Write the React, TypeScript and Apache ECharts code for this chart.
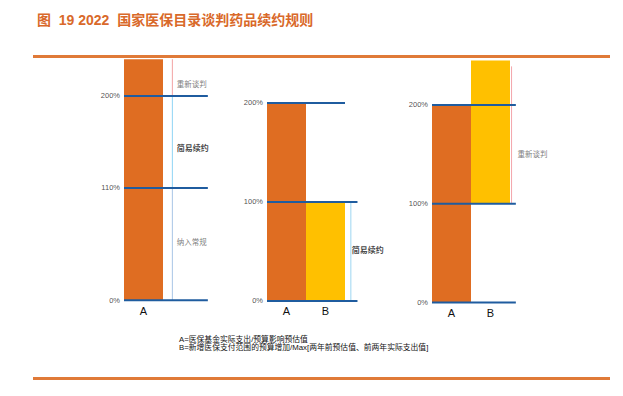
import React, { useEffect, useRef } from "react";
import * as echarts from "echarts";

// ---------- texts ----------
const TITLE = "图  19 2022  国家医保目录谈判药品续约规则";
const NOTE_LINES = [
  "A=医保基金实际支出/预算影响预估值",
  "B=新增医保支付范围的预算增加/Max[两年前预估值、前两年实际支出值]",
];

// ---------- panel 1 ----------
const p1Categories = ["A", "", ""];
const p1BarStart = [0];
const p1BarEnd = [236];
const p1Levels = [0, 110, 200];
const p1LevelEnds = [2.15, 2.15, 2.15];
const p1MarkerX = 1.24;
const p1MarkerSegments: number[][] = [[0, 110], [110, 200], [200, 236]];
const p1NoteTexts = ["纳入常规", "简易续约", "重新谈判"];
const p1NoteX = [1.35, 1.35, 1.35];
const p1NoteY = [57, 149, 211];

// ---------- panel 2 ----------
const p2Categories = ["A", "B", ""];
const p2BarStart = [0, 0];
const p2BarEnd = [200, 100];
const p2Levels = [0, 100, 200];
const p2LevelEnds = [2.32, 2.32, 2.0];
const p2MarkerX = 2.15;
const p2MarkerSegments: number[][] = [[0, 100]];
const p2NoteTexts = ["简易续约"];
const p2NoteX = [2.17];
const p2NoteY = [51];

// ---------- panel 3 ----------
const p3Categories = ["A", "B", ""];
const p3BarStart = [0, 100];
const p3BarEnd = [200, 245];
const p3Levels = [0, 100, 200];
const p3LevelEnds = [2.15, 2.15, 2.15];
const p3MarkerX = 2.04;
const p3MarkerSegments: number[][] = [[100, 239]];
const p3NoteTexts = ["重新谈判"];
const p3NoteX = [2.19];
const p3NoteY = [150];

// ---------- styles ----------
const BAR_COLORS = ["#DF6D22", "#FFC000"];
const LEVEL_COLOR = "#1F5C9F";
const ORANGE_RULE = "#E07A38";
const TITLE_COLOR = "#D9692A";
const p1SegColors = ["#A8C5E6", "#8FD5F5", "#F3A3A3"];
const p2SegColors = ["#9ED6F1"];
const p3SegColors = ["#F3A5AC"];
const p1NoteBold = [false, true, false];
const p2NoteBold = [true];
const p3NoteBold = [false];

const FONT = '"Liberation Sans", "Noto Sans CJK SC", sans-serif';
const UNIT = 39;

const LAYOUT = [
  { left: 124, zeroY: 300.3, scale: 1.0216, yMax: 240 },
  { left: 267, zeroY: 300.9, scale: 0.99, yMax: 210 },
  { left: 432, zeroY: 302.5, scale: 0.988, yMax: 250 },
];

const PANELS = [
  {
    categories: p1Categories, barStart: p1BarStart, barEnd: p1BarEnd,
    levels: p1Levels, levelEnds: p1LevelEnds, markerX: p1MarkerX,
    markerSegments: p1MarkerSegments, segColors: p1SegColors,
    noteTexts: p1NoteTexts, noteX: p1NoteX, noteY: p1NoteY, noteBold: p1NoteBold,
  },
  {
    categories: p2Categories, barStart: p2BarStart, barEnd: p2BarEnd,
    levels: p2Levels, levelEnds: p2LevelEnds, markerX: p2MarkerX,
    markerSegments: p2MarkerSegments, segColors: p2SegColors,
    noteTexts: p2NoteTexts, noteX: p2NoteX, noteY: p2NoteY, noteBold: p2NoteBold,
  },
  {
    categories: p3Categories, barStart: p3BarStart, barEnd: p3BarEnd,
    levels: p3Levels, levelEnds: p3LevelEnds, markerX: p3MarkerX,
    markerSegments: p3MarkerSegments, segColors: p3SegColors,
    noteTexts: p3NoteTexts, noteX: p3NoteX, noteY: p3NoteY, noteBold: p3NoteBold,
  },
];

function buildOption() {
  const grid: any[] = [];
  const xAxis: any[] = [];
  const yAxis: any[] = [];
  const series: any[] = [];

  PANELS.forEach((p, i) => {
    const l = LAYOUT[i];
    grid.push({
      left: l.left,
      top: l.zeroY - l.yMax * l.scale,
      width: 3 * UNIT,
      height: l.yMax * l.scale,
      containLabel: false,
      outerBoundsMode: "none",
    });
    xAxis.push({
      type: "category",
      gridIndex: i,
      data: p.categories,
      axisLine: { show: false },
      axisTick: { show: false },
      splitLine: { show: false },
      axisLabel: { fontSize: 11, color: "#111", margin: 5, fontFamily: FONT },
    });
    xAxis.push({ type: "value", gridIndex: i, min: 0, max: 3, show: false });
    yAxis.push({ type: "value", gridIndex: i, min: 0, max: l.yMax, show: false });

    const catIdx = 2 * i;
    const valIdx = 2 * i + 1;

    // bars (invisible base + visible part)
    series.push({
      type: "bar",
      stack: "s" + i,
      xAxisIndex: catIdx,
      yAxisIndex: i,
      barCategoryGap: "0%",
      silent: true,
      itemStyle: { color: "transparent" },
      data: p.barStart,
      z: 1,
    });
    series.push({
      type: "bar",
      stack: "s" + i,
      xAxisIndex: catIdx,
      yAxisIndex: i,
      barCategoryGap: "0%",
      data: p.barEnd.map((e, j) => ({
        value: e - p.barStart[j],
        itemStyle: { color: BAR_COLORS[j] },
      })),
      z: 1,
    });

    // horizontal threshold lines
    p.levels.forEach((lv, k) => {
      series.push({
        type: "line",
        xAxisIndex: valIdx,
        yAxisIndex: i,
        data: [[0, lv], [p.levelEnds[k], lv]],
        symbol: "none",
        clip: false,
        lineStyle: { color: LEVEL_COLOR, width: 2 },
        z: 4,
      });
    });

    // threshold tick labels
    series.push({
      type: "scatter",
      xAxisIndex: valIdx,
      yAxisIndex: i,
      symbolSize: 0,
      clip: false,
      data: p.levels.map((lv) => [0, lv]),
      label: {
        show: true,
        position: "left",
        distance: 4,
        formatter: (d: any) => d.value[1] + "%",
        fontSize: 7.5,
        color: "#222",
        fontFamily: FONT,
      },
      z: 5,
    });

    // vertical range markers
    p.markerSegments.forEach((seg, k) => {
      series.push({
        type: "line",
        xAxisIndex: valIdx,
        yAxisIndex: i,
        data: [[p.markerX, seg[0]], [p.markerX, seg[1]]],
        symbol: "none",
        clip: false,
        lineStyle: { color: p.segColors[k], width: 1 },
        z: 3,
      });
    });

    // annotations
    series.push({
      type: "scatter",
      xAxisIndex: valIdx,
      yAxisIndex: i,
      symbolSize: 0,
      clip: false,
      data: p.noteTexts.map((t, k) => ({
        value: [p.noteX[k], p.noteY[k]],
        label: {
          formatter: t,
          fontWeight: p.noteBold[k] ? "bold" : "normal",
          color: p.noteBold[k] ? "#111" : "#5a5a5a",
          fontSize: p.noteBold[k] ? 8 : 7.5,
        },
      })),
      label: {
        show: true,
        position: "right",
        distance: 0,
        fontFamily: FONT,
      },
      z: 5,
    });
  });

  return {
    animation: false,
    backgroundColor: "#ffffff",
    title: {
      text: TITLE,
      left: 37,
      top: 13,
      padding: 0,
      textStyle: {
        fontSize: 14,
        fontWeight: "bold",
        color: TITLE_COLOR,
        fontFamily: FONT,
      },
    },
    grid,
    xAxis,
    yAxis,
    series,
    graphic: [
      {
        type: "line",
        shape: { x1: 33, y1: 56.5, x2: 610, y2: 56.5 },
        style: { stroke: ORANGE_RULE, lineWidth: 3 },
        z: 10,
      },
      {
        type: "line",
        shape: { x1: 33, y1: 378.5, x2: 610, y2: 378.5 },
        style: { stroke: ORANGE_RULE, lineWidth: 3 },
        z: 10,
      },
      ...NOTE_LINES.map((t, k) => ({
        type: "text",
        x: 179,
        y: 339 + k * 8,
        style: {
          text: t,
          fontSize: 7.8,
          fill: "#111",
          fontFamily: FONT,
          verticalAlign: "middle",
        },
      })),
    ],
  };
}

export default function App() {
  const ref = useRef<HTMLDivElement>(null);
  useEffect(() => {
    if (!ref.current) return;
    const chart = echarts.init(ref.current, undefined, { renderer: "svg" });
    chart.setOption(buildOption() as any);
    return () => chart.dispose();
  }, []);
  return (
    <div
      ref={ref}
      style={{ position: "absolute", left: 0, top: 0, width: 623, height: 396, background: "#fff" }}
    />
  );
}
